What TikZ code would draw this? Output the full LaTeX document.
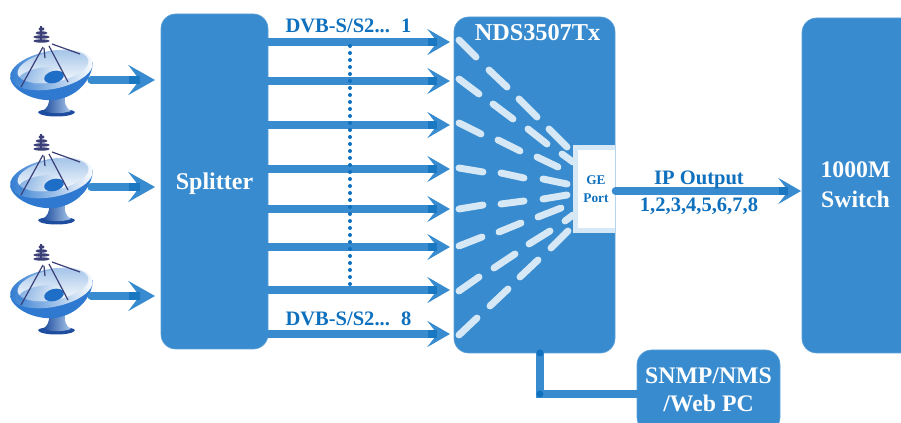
\documentclass[tikz,border=0pt]{standalone}
\usepackage{fontspec}
\setmainfont{Liberation Serif}
\usetikzlibrary{arrows.meta,calc}
\definecolor{boxblue}{HTML}{378BCE}
\definecolor{boxedge}{HTML}{5CA0D8}
\definecolor{inkblue}{HTML}{0F70BE}
\definecolor{raycol}{HTML}{D6E7F5}
\definecolor{navy}{HTML}{3A3F78}
\definecolor{dishdark}{HTML}{1E4C9E}
\definecolor{dishmid}{HTML}{2F7AD0}
\definecolor{dishpale}{HTML}{A9C8EA}
\definecolor{dishblob}{HTML}{1E6EC8}
\newcommand{\fsz}[1]{\fontsize{#1}{#1}\selectfont\bfseries}
\tikzset{
  box/.style={fill=boxblue,draw=boxedge,line width=.5pt,rounded corners=11pt,inner sep=0pt},
  boxtext/.style={text=white,align=center,inner sep=0pt,font=\fsz{17.8}},
  bluetext/.style={text=inkblue,align=center,inner sep=0pt,font=\fsz{15.4}},
  feed/.style={draw=boxblue,line width=5.3pt,line cap=round,-{Stealth[length=17pt,width=19.5pt,inset=7.5pt]}},
  feedmark/.style={draw=inkblue,line width=5.3pt,opacity=.7},
  ray/.style={draw=raycol,line width=5.2pt,line cap=round},
  dishpic/.pic={
    \path[fill=dishdark] (38,112) .. controls (40,108) and (73,108) .. (75,112) .. controls (74,118) and (39,118) .. (38,112) -- cycle;
    \shade[left color=dishdark,right color=dishpale] (49,96) .. controls (50,104) and (47,108) .. (43,111) .. controls (52,114) and (62,114) .. (71,111) .. controls (66,108) and (64,104) .. (65,94) -- cycle;
    \shade[left color=dishmid,middle color=dishdark,right color=dishmid] (10,78) .. controls (12,90) and (33,102) .. (55,100) .. controls (77,97) and (92,80) .. (93,62) -- cycle;
    \shade[left color=dishmid,right color=white,rotate around={11:(51.5,70)}] (51.5,70) ellipse [x radius=42,y radius=19];
    \shade[top color=dishpale,bottom color=white,rotate around={11:(53,67)}] (53,67) ellipse [x radius=36,y radius=15];
    \shade[left color=dishmid,right color=white,opacity=.55,rotate around={11:(40,76)}] (40,76) ellipse [x radius=22,y radius=8];
    \path[fill=dishblob,rotate around={15:(54,77)}] (54,77) ellipse [x radius=10,y radius=6];
    \draw[navy,line width=.9pt] (43,47) -- (21,87) (49,46) -- (68,82) (44,48) -- (45,58) (52,44) -- (80,54);
    \foreach \yy/\rr in {29/3,33/6,37/8,41/8}{\path[fill=navy] (41.5,\yy) ellipse [x radius=\rr,y radius=1.7];}
    \draw[navy,line width=1.5pt] (41,26) -- (41,42);
  }
}
\begin{document}
\begin{tikzpicture}[x=.75pt,y=-.75pt]
\useasboundingbox (0,0) rectangle (901,423);
\clip (0,0) rectangle (901,423);
% boxes
\node[box,minimum width=80.25pt,minimum height=251.25pt] (split) at (214.5,181.5) {};
\node[box,minimum width=120.75pt,minimum height=252pt] (nds) at (534.5,185) {};
\node[box,minimum width=88.5pt,minimum height=251.25pt] (switch) at (861,185.5) {};
\node[box,minimum width=107.25pt,minimum height=61.5pt] (snmp) at (708.5,391) {};
\node[fill=raycol,inner sep=0pt,minimum width=31.5pt,minimum height=66pt] (portedge) at (594,189) {};
\node[fill=white,inner sep=0pt,minimum width=27.75pt,minimum height=58.5pt] (port) at (596.5,189) {};
% rays
\foreach \a/\b/\c/\d in {
 459/40/476/57,489/70/507/87,519/99/537/117,549/129/567/147,
 459/79/479/94,493/104/513/119,528/129/547/144,562/154/573/162,
 459/123/481/134,498/140/520/151,537/157/558/167,
 459/168/483/172,501/173/524/178,543/179/567/184,
 459/209/483/205,501/204/524/201,543/199/567/195,
 459/246/482/237,499/232/521/223,538/217/561/208,
 459/291/479/277,494/268/515/254,529/244/550/231,565/221/573/215,
 459/335/477/318,490/306/508/289,520/277/538/260,551/248/568/231}
 {\draw[ray] (\a,\b) -- (\c,\d);}
% dishes
\pic at (0,0) {dishpic};
\pic at (0,108) {dishpic};
\pic at (0,218) {dishpic};
% dotted
\coordinate (dtop) at (350,46);
\coordinate (dbot) at (350,286);
% splitter feeds
\foreach \n/\yy in {1/42,2/81,3/125,4/169,5/209,6/247,7/290,8/334}{
  \coordinate (s\n) at (split.east |- 0,\yy);
  \coordinate (t\n) at (450,\yy);
  \draw[feed] (s\n) -- (t\n);
  \draw[feedmark] ($(t\n)+(-22,0)$) -- ($(t\n)+(-13,0)$);
}
\draw[inkblue,line width=3pt,line cap=round,dash pattern=on 0pt off 5.25pt] (dtop) -- (dbot);
% dish arrows
\foreach \n/\yy in {1/80,2/187,3/296}{
  \coordinate (d\n) at (91,\yy);
  \coordinate (e\n) at (155,\yy);
  \draw[boxblue,line width=5.3pt,line cap=round,-{Stealth[length=20pt,width=22.5pt,inset=8.5pt]}] (d\n) -- (e\n);
  \draw[feedmark] ($(e\n)+(-26,0)$) -- ($(e\n)+(-15,0)$);
}
% IP output
\coordinate (ipend) at (801,191);
\draw[feed] (port.east |- ipend) -- (ipend);
\draw[feedmark] ($(ipend)+(-22,0)$) -- ($(ipend)+(-13,0)$);
% SNMP link
\coordinate (elbow) at (540,394);
\coordinate (ndsdrop) at (540,353);
\draw[boxblue,line width=5.3pt,line cap=round] (ndsdrop) -- (elbow) -- (snmp.west |- elbow);
\path[fill=inkblue] (elbow) circle [radius=3.5];
\path[fill=inkblue] (ndsdrop) circle [radius=3.5];
% texts
\node[boxtext,font=\fsz{18}] (splitlabel) at (214.5,184) {Splitter};
\node[boxtext,font=\fsz{18.2}] (ndslabel) at (537.5,33) {NDS3507Tx};
\node[boxtext] (switchlabel) at (855.5,185) {1000M\\[5pt]Switch};
\node[boxtext] (snmplabel) at (708.5,390) {SNMP/NMS\\[3pt]/Web PC};
\node[bluetext] (dvbtop) at (348.5,26) {DVB-S/S2...\hspace{.55em}1};
\node[bluetext] (dvbbot) at (348.5,319) {DVB-S/S2...\hspace{.55em}8};
\node[bluetext] (iplabel) at (699,180) {IP Output};
\node[bluetext] (ipnums) at (699,206) {1,2,3,4,5,6,7,8};
\node[bluetext,font=\fsz{10}] (portlabel) at (596,189) {GE\\[3pt]Port};
\end{tikzpicture}
\end{document}
